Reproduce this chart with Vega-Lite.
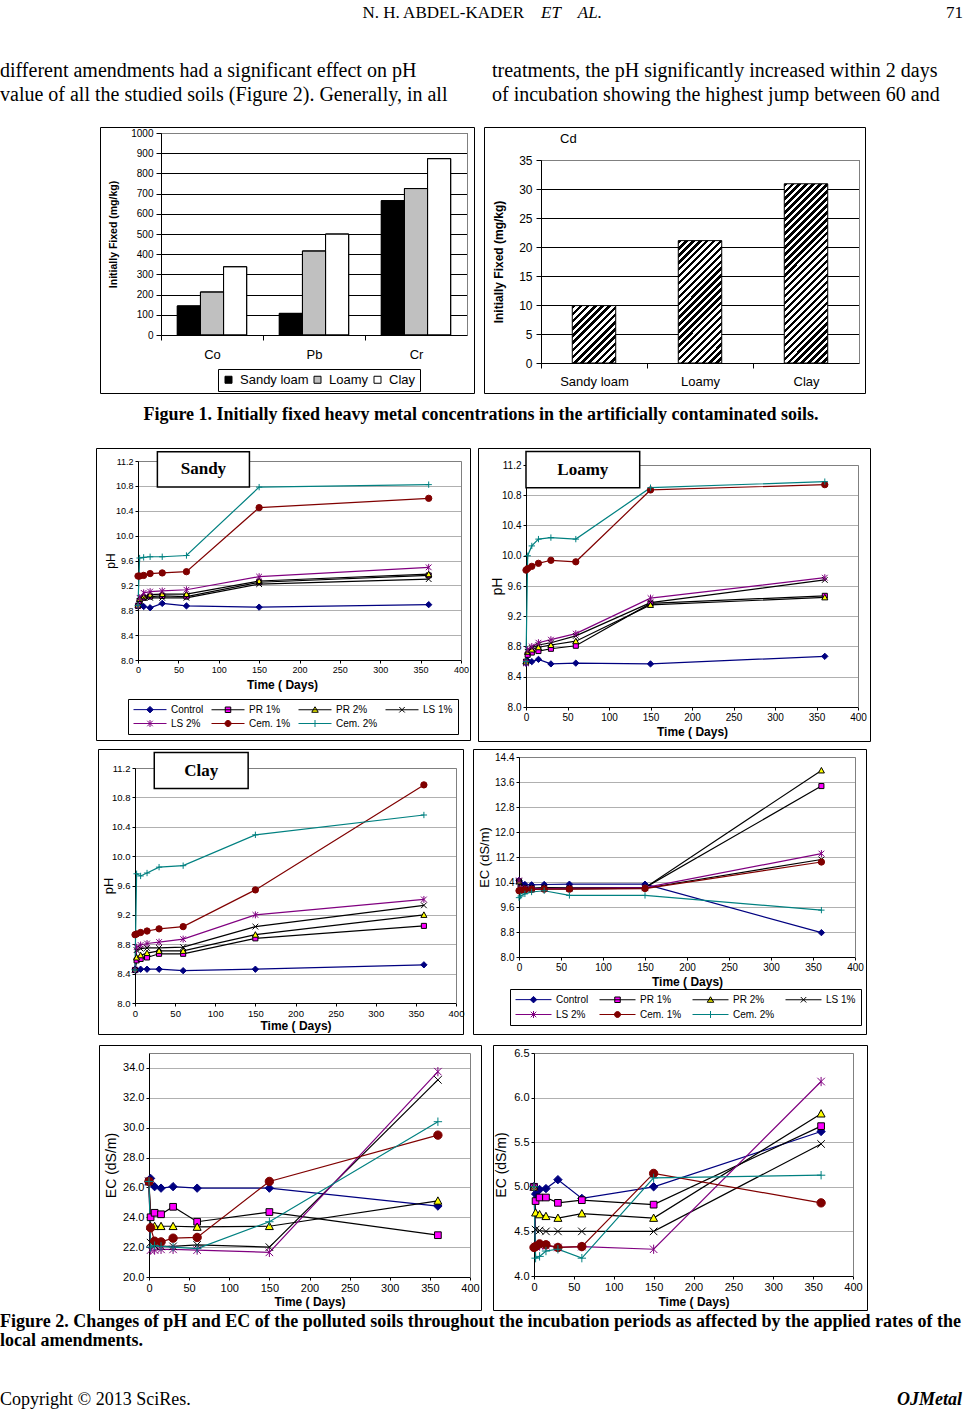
{
"$schema": "https://vega.github.io/schema/vega-lite/v6.json",
"background": "white",
"padding": 0,
"spacing": 0,
"resolve": {"scale": {"fill": "independent", "stroke": "independent", "shape": "independent"}, "legend": {"fill": "independent", "stroke": "independent", "shape": "independent"}},
"datasets": {
"fig1": [
{"metal":"Co","soil":"Sandy loam","value":144},{"metal":"Co","soil":"Loamy","value":213},{"metal":"Co","soil":"Clay","value":338},
{"metal":"Pb","soil":"Sandy loam","value":107},{"metal":"Pb","soil":"Loamy","value":416},{"metal":"Pb","soil":"Clay","value":500},
{"metal":"Cr","soil":"Sandy loam","value":665},{"metal":"Cr","soil":"Loamy","value":725},{"metal":"Cr","soil":"Clay","value":873}
],
"cd": [
{"soil":"Sandy loam","value":9.9},{"soil":"Loamy","value":21.1},{"soil":"Clay","value":30.9}
],
"sandy": [
{"day":0,"series":"Control","value":8.87},{"day":2,"series":"Control","value":8.89},{"day":7,"series":"Control","value":8.86},{"day":15,"series":"Control","value":8.84},{"day":30,"series":"Control","value":8.91},{"day":60,"series":"Control","value":8.87},{"day":150,"series":"Control","value":8.85},{"day":360,"series":"Control","value":8.89},
{"day":0,"series":"PR 1%","value":8.87},{"day":2,"series":"PR 1%","value":8.95},{"day":7,"series":"PR 1%","value":9.0},{"day":15,"series":"PR 1%","value":9.02},{"day":30,"series":"PR 1%","value":9.03},{"day":60,"series":"PR 1%","value":9.02},{"day":150,"series":"PR 1%","value":9.25},{"day":360,"series":"PR 1%","value":9.36},
{"day":0,"series":"PR 2%","value":8.88},{"day":2,"series":"PR 2%","value":8.98},{"day":7,"series":"PR 2%","value":9.02},{"day":15,"series":"PR 2%","value":9.05},{"day":30,"series":"PR 2%","value":9.06},{"day":60,"series":"PR 2%","value":9.06},{"day":150,"series":"PR 2%","value":9.27},{"day":360,"series":"PR 2%","value":9.38},
{"day":0,"series":"LS 1%","value":8.87},{"day":2,"series":"LS 1%","value":8.95},{"day":7,"series":"LS 1%","value":9.0},{"day":15,"series":"LS 1%","value":9.0},{"day":30,"series":"LS 1%","value":9.0},{"day":60,"series":"LS 1%","value":9.0},{"day":150,"series":"LS 1%","value":9.22},{"day":360,"series":"LS 1%","value":9.3},
{"day":0,"series":"LS 2%","value":8.87},{"day":2,"series":"LS 2%","value":9.0},{"day":7,"series":"LS 2%","value":9.08},{"day":15,"series":"LS 2%","value":9.1},{"day":30,"series":"LS 2%","value":9.11},{"day":60,"series":"LS 2%","value":9.13},{"day":150,"series":"LS 2%","value":9.34},{"day":360,"series":"LS 2%","value":9.49},
{"day":0,"series":"Cem. 1%","value":9.35},{"day":2,"series":"Cem. 1%","value":9.35},{"day":7,"series":"Cem. 1%","value":9.36},{"day":15,"series":"Cem. 1%","value":9.39},{"day":30,"series":"Cem. 1%","value":9.4},{"day":60,"series":"Cem. 1%","value":9.42},{"day":150,"series":"Cem. 1%","value":10.45},{"day":360,"series":"Cem. 1%","value":10.6},
{"day":0,"series":"Cem. 2%","value":8.88},{"day":2,"series":"Cem. 2%","value":9.64},{"day":7,"series":"Cem. 2%","value":9.65},{"day":15,"series":"Cem. 2%","value":9.66},{"day":30,"series":"Cem. 2%","value":9.66},{"day":60,"series":"Cem. 2%","value":9.68},{"day":150,"series":"Cem. 2%","value":10.78},{"day":360,"series":"Cem. 2%","value":10.82}
],
"loamy": [
{"day":0,"series":"Control","value":8.58},{"day":2,"series":"Control","value":8.61},{"day":7,"series":"Control","value":8.6},{"day":15,"series":"Control","value":8.63},{"day":30,"series":"Control","value":8.57},{"day":60,"series":"Control","value":8.58},{"day":150,"series":"Control","value":8.57},{"day":360,"series":"Control","value":8.67},
{"day":0,"series":"PR 1%","value":8.6},{"day":2,"series":"PR 1%","value":8.69},{"day":7,"series":"PR 1%","value":8.72},{"day":15,"series":"PR 1%","value":8.74},{"day":30,"series":"PR 1%","value":8.77},{"day":60,"series":"PR 1%","value":8.81},{"day":150,"series":"PR 1%","value":9.37},{"day":360,"series":"PR 1%","value":9.47},
{"day":0,"series":"PR 2%","value":8.6},{"day":2,"series":"PR 2%","value":8.73},{"day":7,"series":"PR 2%","value":8.76},{"day":15,"series":"PR 2%","value":8.79},{"day":30,"series":"PR 2%","value":8.82},{"day":60,"series":"PR 2%","value":8.87},{"day":150,"series":"PR 2%","value":9.35},{"day":360,"series":"PR 2%","value":9.45},
{"day":0,"series":"LS 1%","value":8.58},{"day":2,"series":"LS 1%","value":8.73},{"day":7,"series":"LS 1%","value":8.78},{"day":15,"series":"LS 1%","value":8.82},{"day":30,"series":"LS 1%","value":8.85},{"day":60,"series":"LS 1%","value":8.94},{"day":150,"series":"LS 1%","value":9.38},{"day":360,"series":"LS 1%","value":9.68},
{"day":0,"series":"LS 2%","value":8.58},{"day":2,"series":"LS 2%","value":8.76},{"day":7,"series":"LS 2%","value":8.8},{"day":15,"series":"LS 2%","value":8.85},{"day":30,"series":"LS 2%","value":8.89},{"day":60,"series":"LS 2%","value":8.97},{"day":150,"series":"LS 2%","value":9.44},{"day":360,"series":"LS 2%","value":9.71},
{"day":0,"series":"Cem. 1%","value":9.81},{"day":2,"series":"Cem. 1%","value":9.83},{"day":7,"series":"Cem. 1%","value":9.86},{"day":15,"series":"Cem. 1%","value":9.9},{"day":30,"series":"Cem. 1%","value":9.94},{"day":60,"series":"Cem. 1%","value":9.92},{"day":150,"series":"Cem. 1%","value":10.87},{"day":360,"series":"Cem. 1%","value":10.94},
{"day":0,"series":"Cem. 2%","value":8.6},{"day":2,"series":"Cem. 2%","value":10.0},{"day":7,"series":"Cem. 2%","value":10.13},{"day":15,"series":"Cem. 2%","value":10.22},{"day":30,"series":"Cem. 2%","value":10.24},{"day":60,"series":"Cem. 2%","value":10.22},{"day":150,"series":"Cem. 2%","value":10.9},{"day":360,"series":"Cem. 2%","value":10.98}
],
"clay": [
{"day":0,"series":"Control","value":8.46},{"day":2,"series":"Control","value":8.45},{"day":7,"series":"Control","value":8.46},{"day":15,"series":"Control","value":8.46},{"day":30,"series":"Control","value":8.46},{"day":60,"series":"Control","value":8.44},{"day":150,"series":"Control","value":8.46},{"day":360,"series":"Control","value":8.52},
{"day":0,"series":"PR 1%","value":8.45},{"day":2,"series":"PR 1%","value":8.58},{"day":7,"series":"PR 1%","value":8.6},{"day":15,"series":"PR 1%","value":8.62},{"day":30,"series":"PR 1%","value":8.67},{"day":60,"series":"PR 1%","value":8.67},{"day":150,"series":"PR 1%","value":8.88},{"day":360,"series":"PR 1%","value":9.05},
{"day":0,"series":"PR 2%","value":8.45},{"day":2,"series":"PR 2%","value":8.62},{"day":7,"series":"PR 2%","value":8.65},{"day":15,"series":"PR 2%","value":8.68},{"day":30,"series":"PR 2%","value":8.71},{"day":60,"series":"PR 2%","value":8.71},{"day":150,"series":"PR 2%","value":8.93},{"day":360,"series":"PR 2%","value":9.2},
{"day":0,"series":"LS 1%","value":8.45},{"day":2,"series":"LS 1%","value":8.72},{"day":7,"series":"LS 1%","value":8.74},{"day":15,"series":"LS 1%","value":8.75},{"day":30,"series":"LS 1%","value":8.75},{"day":60,"series":"LS 1%","value":8.76},{"day":150,"series":"LS 1%","value":9.04},{"day":360,"series":"LS 1%","value":9.33},
{"day":0,"series":"LS 2%","value":8.45},{"day":2,"series":"LS 2%","value":8.76},{"day":7,"series":"LS 2%","value":8.79},{"day":15,"series":"LS 2%","value":8.81},{"day":30,"series":"LS 2%","value":8.83},{"day":60,"series":"LS 2%","value":8.87},{"day":150,"series":"LS 2%","value":9.2},{"day":360,"series":"LS 2%","value":9.41},
{"day":0,"series":"Cem. 1%","value":8.93},{"day":2,"series":"Cem. 1%","value":8.94},{"day":7,"series":"Cem. 1%","value":8.96},{"day":15,"series":"Cem. 1%","value":8.98},{"day":30,"series":"Cem. 1%","value":9.01},{"day":60,"series":"Cem. 1%","value":9.04},{"day":150,"series":"Cem. 1%","value":9.54},{"day":360,"series":"Cem. 1%","value":10.97},
{"day":0,"series":"Cem. 2%","value":8.45},{"day":2,"series":"Cem. 2%","value":9.76},{"day":7,"series":"Cem. 2%","value":9.73},{"day":15,"series":"Cem. 2%","value":9.77},{"day":30,"series":"Cem. 2%","value":9.85},{"day":60,"series":"Cem. 2%","value":9.87},{"day":150,"series":"Cem. 2%","value":10.29},{"day":360,"series":"Cem. 2%","value":10.56}
],
"ecmid": [
{"day":0,"series":"Control","value":10.45},{"day":2,"series":"Control","value":10.36},{"day":7,"series":"Control","value":10.32},{"day":15,"series":"Control","value":10.31},{"day":30,"series":"Control","value":10.32},{"day":60,"series":"Control","value":10.33},{"day":150,"series":"Control","value":10.33},{"day":360,"series":"Control","value":8.78},
{"day":0,"series":"PR 1%","value":10.42},{"day":2,"series":"PR 1%","value":10.22},{"day":7,"series":"PR 1%","value":10.2},{"day":15,"series":"PR 1%","value":10.2},{"day":30,"series":"PR 1%","value":10.21},{"day":60,"series":"PR 1%","value":10.2},{"day":150,"series":"PR 1%","value":10.22},{"day":360,"series":"PR 1%","value":13.47},
{"day":0,"series":"PR 2%","value":10.42},{"day":2,"series":"PR 2%","value":10.24},{"day":7,"series":"PR 2%","value":10.21},{"day":15,"series":"PR 2%","value":10.2},{"day":30,"series":"PR 2%","value":10.22},{"day":60,"series":"PR 2%","value":10.21},{"day":150,"series":"PR 2%","value":10.22},{"day":360,"series":"PR 2%","value":13.97},
{"day":0,"series":"LS 1%","value":10.42},{"day":2,"series":"LS 1%","value":10.18},{"day":7,"series":"LS 1%","value":10.16},{"day":15,"series":"LS 1%","value":10.17},{"day":30,"series":"LS 1%","value":10.18},{"day":60,"series":"LS 1%","value":10.18},{"day":150,"series":"LS 1%","value":10.2},{"day":360,"series":"LS 1%","value":11.12},
{"day":0,"series":"LS 2%","value":10.45},{"day":2,"series":"LS 2%","value":10.2},{"day":7,"series":"LS 2%","value":10.18},{"day":15,"series":"LS 2%","value":10.18},{"day":30,"series":"LS 2%","value":10.19},{"day":60,"series":"LS 2%","value":10.2},{"day":150,"series":"LS 2%","value":10.22},{"day":360,"series":"LS 2%","value":11.31},
{"day":0,"series":"Cem. 1%","value":10.12},{"day":2,"series":"Cem. 1%","value":10.13},{"day":7,"series":"Cem. 1%","value":10.15},{"day":15,"series":"Cem. 1%","value":10.16},{"day":30,"series":"Cem. 1%","value":10.17},{"day":60,"series":"Cem. 1%","value":10.17},{"day":150,"series":"Cem. 1%","value":10.19},{"day":360,"series":"Cem. 1%","value":11.04},
{"day":0,"series":"Cem. 2%","value":9.9},{"day":2,"series":"Cem. 2%","value":9.95},{"day":7,"series":"Cem. 2%","value":10.02},{"day":15,"series":"Cem. 2%","value":10.08},{"day":30,"series":"Cem. 2%","value":10.12},{"day":60,"series":"Cem. 2%","value":9.97},{"day":150,"series":"Cem. 2%","value":9.97},{"day":360,"series":"Cem. 2%","value":9.5}
],
"ecbl": [
{"day":0,"series":"Control","value":26.4},{"day":2,"series":"Control","value":26.6},{"day":7,"series":"Control","value":26.05},{"day":15,"series":"Control","value":25.95},{"day":30,"series":"Control","value":26.05},{"day":60,"series":"Control","value":25.95},{"day":150,"series":"Control","value":25.95},{"day":360,"series":"Control","value":24.75},
{"day":0,"series":"PR 1%","value":26.4},{"day":2,"series":"PR 1%","value":24.0},{"day":7,"series":"PR 1%","value":24.3},{"day":15,"series":"PR 1%","value":24.2},{"day":30,"series":"PR 1%","value":24.7},{"day":60,"series":"PR 1%","value":23.7},{"day":150,"series":"PR 1%","value":24.35},{"day":360,"series":"PR 1%","value":22.8},
{"day":0,"series":"PR 2%","value":26.4},{"day":2,"series":"PR 2%","value":23.4},{"day":7,"series":"PR 2%","value":23.4},{"day":15,"series":"PR 2%","value":23.4},{"day":30,"series":"PR 2%","value":23.4},{"day":60,"series":"PR 2%","value":23.35},{"day":150,"series":"PR 2%","value":23.4},{"day":360,"series":"PR 2%","value":25.1},
{"day":0,"series":"LS 1%","value":26.4},{"day":2,"series":"LS 1%","value":22.3},{"day":7,"series":"LS 1%","value":22.1},{"day":15,"series":"LS 1%","value":22.05},{"day":30,"series":"LS 1%","value":22.05},{"day":60,"series":"LS 1%","value":22.15},{"day":150,"series":"LS 1%","value":22.0},{"day":360,"series":"LS 1%","value":33.2},
{"day":0,"series":"LS 2%","value":26.4},{"day":2,"series":"LS 2%","value":21.8},{"day":7,"series":"LS 2%","value":21.8},{"day":15,"series":"LS 2%","value":21.85},{"day":30,"series":"LS 2%","value":21.85},{"day":60,"series":"LS 2%","value":21.8},{"day":150,"series":"LS 2%","value":21.65},{"day":360,"series":"LS 2%","value":33.75},
{"day":0,"series":"Cem. 1%","value":26.4},{"day":2,"series":"Cem. 1%","value":23.3},{"day":7,"series":"Cem. 1%","value":22.4},{"day":15,"series":"Cem. 1%","value":22.35},{"day":30,"series":"Cem. 1%","value":22.6},{"day":60,"series":"Cem. 1%","value":22.65},{"day":150,"series":"Cem. 1%","value":26.4},{"day":360,"series":"Cem. 1%","value":29.5},
{"day":0,"series":"Cem. 2%","value":26.4},{"day":2,"series":"Cem. 2%","value":22.0},{"day":7,"series":"Cem. 2%","value":22.1},{"day":15,"series":"Cem. 2%","value":22.05},{"day":30,"series":"Cem. 2%","value":22.0},{"day":60,"series":"Cem. 2%","value":21.9},{"day":150,"series":"Cem. 2%","value":23.7},{"day":360,"series":"Cem. 2%","value":30.4}
],
"ecbr": [
{"day":0,"series":"Control","value":5.0},{"day":2,"series":"Control","value":4.92},{"day":7,"series":"Control","value":4.97},{"day":15,"series":"Control","value":4.98},{"day":30,"series":"Control","value":5.08},{"day":60,"series":"Control","value":4.87},{"day":150,"series":"Control","value":5.0},{"day":360,"series":"Control","value":5.62},
{"day":0,"series":"PR 1%","value":5.0},{"day":2,"series":"PR 1%","value":4.84},{"day":7,"series":"PR 1%","value":4.88},{"day":15,"series":"PR 1%","value":4.88},{"day":30,"series":"PR 1%","value":4.82},{"day":60,"series":"PR 1%","value":4.85},{"day":150,"series":"PR 1%","value":4.8},{"day":360,"series":"PR 1%","value":5.68},
{"day":0,"series":"PR 2%","value":5.0},{"day":2,"series":"PR 2%","value":4.71},{"day":7,"series":"PR 2%","value":4.69},{"day":15,"series":"PR 2%","value":4.67},{"day":30,"series":"PR 2%","value":4.65},{"day":60,"series":"PR 2%","value":4.7},{"day":150,"series":"PR 2%","value":4.65},{"day":360,"series":"PR 2%","value":5.82},
{"day":0,"series":"LS 1%","value":5.0},{"day":2,"series":"LS 1%","value":4.52},{"day":7,"series":"LS 1%","value":4.51},{"day":15,"series":"LS 1%","value":4.5},{"day":30,"series":"LS 1%","value":4.5},{"day":60,"series":"LS 1%","value":4.5},{"day":150,"series":"LS 1%","value":4.5},{"day":360,"series":"LS 1%","value":5.48},
{"day":0,"series":"LS 2%","value":5.0},{"day":2,"series":"LS 2%","value":4.33},{"day":7,"series":"LS 2%","value":4.34},{"day":15,"series":"LS 2%","value":4.34},{"day":30,"series":"LS 2%","value":4.32},{"day":60,"series":"LS 2%","value":4.33},{"day":150,"series":"LS 2%","value":4.3},{"day":360,"series":"LS 2%","value":6.18},
{"day":0,"series":"Cem. 1%","value":4.32},{"day":2,"series":"Cem. 1%","value":4.33},{"day":7,"series":"Cem. 1%","value":4.36},{"day":15,"series":"Cem. 1%","value":4.35},{"day":30,"series":"Cem. 1%","value":4.32},{"day":60,"series":"Cem. 1%","value":4.33},{"day":150,"series":"Cem. 1%","value":5.15},{"day":360,"series":"Cem. 1%","value":4.82},
{"day":0,"series":"Cem. 2%","value":5.0},{"day":2,"series":"Cem. 2%","value":4.2},{"day":7,"series":"Cem. 2%","value":4.22},{"day":15,"series":"Cem. 2%","value":4.28},{"day":30,"series":"Cem. 2%","value":4.3},{"day":60,"series":"Cem. 2%","value":4.2},{"day":150,"series":"Cem. 2%","value":5.1},{"day":360,"series":"Cem. 2%","value":5.13}
]
},
"vconcat": [
{"spacing": 0, "bounds": "flush", "hconcat": [
{"width": 524, "height": 40, "data": {"values": []}, "mark": "point", "encoding": {}, "title": {"text": "N. H. ABDEL-KADER", "orient": "bottom", "anchor": "end", "offset": -35, "font": "Liberation Serif", "fontSize": 17, "fontWeight": "normal", "baseline": "top"}},
{"width": 17, "height": 40, "data": {"values": []}, "mark": "point", "encoding": {}},
{"width": 385, "height": 40, "data": {"values": []}, "mark": "point", "encoding": {}, "title": {"text": "ET\u00a0\u00a0\u00a0\u00a0AL.", "orient": "bottom", "anchor": "start", "offset": -35, "font": "Liberation Serif", "fontSize": 17, "fontStyle": "italic", "fontWeight": "normal", "baseline": "top"}},
{"width": 37, "height": 40, "data": {"values": []}, "mark": "point", "encoding": {}, "title": {"text": "71", "orient": "bottom", "anchor": "end", "offset": -35, "font": "Liberation Serif", "fontSize": 17, "fontWeight": "normal", "baseline": "top"}}
]},
{"spacing": 0, "bounds": "flush", "hconcat": [
{"width": 492, "height": 86, "data": {"values": []}, "mark": "point", "encoding": {}, "title": {"text": ["different amendments had a significant effect on pH", "value of all the studied soils (Figure 2). Generally, in all"], "orient": "bottom", "anchor": "start", "offset": -65, "font": "Liberation Serif", "fontSize": 20, "lineHeight": 24, "fontWeight": "normal", "baseline": "top"}},
{"width": 471, "height": 86, "data": {"values": []}, "mark": "point", "encoding": {}, "title": {"text": ["treatments, the pH significantly increased within 2 days", "of incubation showing the highest jump between 60 and"], "orient": "bottom", "anchor": "start", "offset": -65, "font": "Liberation Serif", "fontSize": 20, "lineHeight": 24, "fontWeight": "normal", "baseline": "top"}}
]},
{"spacing": 0, "bounds": "flush", "resolve": {"scale": {"fill": "independent", "stroke": "independent", "shape": "independent"}, "legend": {"fill": "independent", "stroke": "independent", "shape": "independent"}}, "hconcat": [
{"width": 100, "height": 266, "data": {"values": []}, "mark": "point", "encoding": {}},
{
 "width": 374, "height": 266, "view": {"stroke": "#000"},
 "data": {"name": "fig1"},
 "layer": [
  {"mark": {"type": "bar", "stroke": "#000", "strokeWidth": 1},
   "encoding": {
    "x": {"field": "metal", "type": "nominal", "scale": {"domain": ["Co","Pb","Cr"], "range": [61, 367], "paddingInner": 0.32, "paddingOuter": 0.16},
      "axis": {"orient": "bottom", "offset": -58, "title": null, "labelAngle": 0, "labelFontSize": 13, "labelPadding": 8, "tickSize": 5, "tickOffset": -51, "labelOffset": 51, "grid": false}},
    "xOffset": {"field": "soil", "type": "nominal", "scale": {"domain": ["Sandy loam","Loamy","Clay"], "paddingInner": 0, "paddingOuter": 0}},
    "y": {"field": "value", "type": "quantitative", "scale": {"domain": [0, 1000], "range": [208, 6], "nice": false, "zero": false},
      "axis": {"orient": "left", "offset": -61, "values": [0,100,200,300,400,500,600,700,800,900,1000], "format": "d", "grid": true, "gridColor": "#000", "title": "Initially Fixed (mg/kg)", "titleFontSize": 10.5, "titleFontWeight": "bold", "titlePadding": 12, "labelFontSize": 10, "tickSize": 5, "labelPadding": 3}},
    "fill": {"field": "soil", "type": "nominal", "scale": {"domain": ["Sandy loam","Loamy","Clay"], "range": ["#000000","#C0C0C0","#FFFFFF"]},
      "legend": {"orient": "none", "legendX": 118, "legendY": 242, "direction": "horizontal", "columns": 3, "title": null, "strokeColor": "#000", "padding": 4, "symbolType": "square", "symbolSize": 49, "symbolStrokeColor": "#000", "symbolStrokeWidth": 1, "labelFontSize": 13, "labelOffset": 5, "columnPadding": 2}}
   }},
  {"mark": {"type": "bar", "fillOpacity": 0, "stroke": "#000", "strokeWidth": 1},
   "encoding": {
    "x": {"field": "metal", "type": "nominal", "scale": {"domain": ["Co","Pb","Cr"], "range": [61, 367], "paddingInner": 0.32, "paddingOuter": 0.16},
      "axis": {"orient": "top", "offset": -6, "labels": false, "ticks": false, "grid": false, "title": null, "domainColor": "#808080"}},
    "xOffset": {"field": "soil", "type": "nominal", "scale": {"domain": ["Sandy loam","Loamy","Clay"], "paddingInner": 0, "paddingOuter": 0}},
    "y": {"field": "value", "type": "quantitative", "scale": {"domain": [0, 1000], "range": [208, 6], "nice": false, "zero": false},
      "axis": {"orient": "right", "offset": -7, "labels": false, "ticks": false, "grid": false, "title": null, "domainColor": "#808080"}}
   }}
 ],
 "resolve": {"axis": {"x": "independent", "y": "independent"}}
},
{"width": 10, "height": 266, "data": {"values": []}, "mark": "point", "encoding": {}},
{
 "width": 381, "height": 266, "view": {"stroke": "#000"},
 "data": {"name": "cd"},
 "title": {"text": "Cd", "orient": "bottom", "anchor": "start", "frame": "group", "offset": -260, "dx": 76, "font": "Liberation Sans", "fontSize": 13, "fontWeight": "normal", "baseline": "top"},
 "layer": [
  {"mark": {"type": "bar"},
   "encoding": {
    "x": {"field": "soil", "type": "nominal", "scale": {"domain": ["Sandy loam","Loamy","Clay"], "range": [57, 375], "paddingInner": 0.59, "paddingOuter": 0.295},
      "axis": {"orient": "bottom", "offset": -30, "title": null, "labelAngle": 0, "labelFontSize": 13, "labelPadding": 7, "tickSize": 5, "tickOffset": -53, "labelOffset": 53, "grid": false}},
    "y": {"field": "value", "type": "quantitative", "scale": {"domain": [0, 35], "range": [236, 33], "nice": false, "zero": false},
      "axis": {"orient": "left", "offset": -57, "values": [0,5,10,15,20,25,30,35], "grid": true, "gridColor": "#000", "title": "Initially Fixed (mg/kg)", "titleFontSize": 12, "titleFontWeight": "bold", "titlePadding": 13, "labelFontSize": 12, "tickSize": 5, "labelPadding": 4}},
    "fill": {"condition": [
      {"test": "datum.soil === 'Sandy loam'", "value": {"gradient": "linear", "x1": 0, "y1": 0, "x2": 0.8463, "y2": 1.1165, "stops": [
{"offset":0,"color":"#000"},{"offset":0.0357,"color":"#000"},{"offset":0.0357,"color":"#fff"},{"offset":0.0714,"color":"#fff"},
{"offset":0.0714,"color":"#000"},{"offset":0.1071,"color":"#000"},{"offset":0.1071,"color":"#fff"},{"offset":0.1429,"color":"#fff"},
{"offset":0.1429,"color":"#000"},{"offset":0.1786,"color":"#000"},{"offset":0.1786,"color":"#fff"},{"offset":0.2143,"color":"#fff"},
{"offset":0.2143,"color":"#000"},{"offset":0.25,"color":"#000"},{"offset":0.25,"color":"#fff"},{"offset":0.2857,"color":"#fff"},
{"offset":0.2857,"color":"#000"},{"offset":0.3214,"color":"#000"},{"offset":0.3214,"color":"#fff"},{"offset":0.3571,"color":"#fff"},
{"offset":0.3571,"color":"#000"},{"offset":0.3929,"color":"#000"},{"offset":0.3929,"color":"#fff"},{"offset":0.4286,"color":"#fff"},
{"offset":0.4286,"color":"#000"},{"offset":0.4643,"color":"#000"},{"offset":0.4643,"color":"#fff"},{"offset":0.5,"color":"#fff"},
{"offset":0.5,"color":"#000"},{"offset":0.5357,"color":"#000"},{"offset":0.5357,"color":"#fff"},{"offset":0.5714,"color":"#fff"},
{"offset":0.5714,"color":"#000"},{"offset":0.6071,"color":"#000"},{"offset":0.6071,"color":"#fff"},{"offset":0.6429,"color":"#fff"},
{"offset":0.6429,"color":"#000"},{"offset":0.6786,"color":"#000"},{"offset":0.6786,"color":"#fff"},{"offset":0.7143,"color":"#fff"},
{"offset":0.7143,"color":"#000"},{"offset":0.75,"color":"#000"},{"offset":0.75,"color":"#fff"},{"offset":0.7857,"color":"#fff"},
{"offset":0.7857,"color":"#000"},{"offset":0.8214,"color":"#000"},{"offset":0.8214,"color":"#fff"},{"offset":0.8571,"color":"#fff"},
{"offset":0.8571,"color":"#000"},{"offset":0.8929,"color":"#000"},{"offset":0.8929,"color":"#fff"},{"offset":0.9286,"color":"#fff"},
{"offset":0.9286,"color":"#000"},{"offset":0.9643,"color":"#000"},{"offset":0.9643,"color":"#fff"},{"offset":1,"color":"#fff"}
      ]}},
      {"test": "datum.soil === 'Loamy'", "value": {"gradient": "linear", "x1": 0, "y1": 0, "x2": 0.4277, "y2": 1.2034, "stops": [
{"offset":0,"color":"#000"},{"offset":0.0208,"color":"#000"},{"offset":0.0208,"color":"#fff"},{"offset":0.0417,"color":"#fff"},
{"offset":0.0417,"color":"#000"},{"offset":0.0625,"color":"#000"},{"offset":0.0625,"color":"#fff"},{"offset":0.0833,"color":"#fff"},
{"offset":0.0833,"color":"#000"},{"offset":0.1042,"color":"#000"},{"offset":0.1042,"color":"#fff"},{"offset":0.125,"color":"#fff"},
{"offset":0.125,"color":"#000"},{"offset":0.1458,"color":"#000"},{"offset":0.1458,"color":"#fff"},{"offset":0.1667,"color":"#fff"},
{"offset":0.1667,"color":"#000"},{"offset":0.1875,"color":"#000"},{"offset":0.1875,"color":"#fff"},{"offset":0.2083,"color":"#fff"},
{"offset":0.2083,"color":"#000"},{"offset":0.2292,"color":"#000"},{"offset":0.2292,"color":"#fff"},{"offset":0.25,"color":"#fff"},
{"offset":0.25,"color":"#000"},{"offset":0.2708,"color":"#000"},{"offset":0.2708,"color":"#fff"},{"offset":0.2917,"color":"#fff"},
{"offset":0.2917,"color":"#000"},{"offset":0.3125,"color":"#000"},{"offset":0.3125,"color":"#fff"},{"offset":0.3333,"color":"#fff"},
{"offset":0.3333,"color":"#000"},{"offset":0.3542,"color":"#000"},{"offset":0.3542,"color":"#fff"},{"offset":0.375,"color":"#fff"},
{"offset":0.375,"color":"#000"},{"offset":0.3958,"color":"#000"},{"offset":0.3958,"color":"#fff"},{"offset":0.4167,"color":"#fff"},
{"offset":0.4167,"color":"#000"},{"offset":0.4375,"color":"#000"},{"offset":0.4375,"color":"#fff"},{"offset":0.4583,"color":"#fff"},
{"offset":0.4583,"color":"#000"},{"offset":0.4792,"color":"#000"},{"offset":0.4792,"color":"#fff"},{"offset":0.5,"color":"#fff"},
{"offset":0.5,"color":"#000"},{"offset":0.5208,"color":"#000"},{"offset":0.5208,"color":"#fff"},{"offset":0.5417,"color":"#fff"},
{"offset":0.5417,"color":"#000"},{"offset":0.5625,"color":"#000"},{"offset":0.5625,"color":"#fff"},{"offset":0.5833,"color":"#fff"},
{"offset":0.5833,"color":"#000"},{"offset":0.6042,"color":"#000"},{"offset":0.6042,"color":"#fff"},{"offset":0.625,"color":"#fff"},
{"offset":0.625,"color":"#000"},{"offset":0.6458,"color":"#000"},{"offset":0.6458,"color":"#fff"},{"offset":0.6667,"color":"#fff"},
{"offset":0.6667,"color":"#000"},{"offset":0.6875,"color":"#000"},{"offset":0.6875,"color":"#fff"},{"offset":0.7083,"color":"#fff"},
{"offset":0.7083,"color":"#000"},{"offset":0.7292,"color":"#000"},{"offset":0.7292,"color":"#fff"},{"offset":0.75,"color":"#fff"},
{"offset":0.75,"color":"#000"},{"offset":0.7708,"color":"#000"},{"offset":0.7708,"color":"#fff"},{"offset":0.7917,"color":"#fff"},
{"offset":0.7917,"color":"#000"},{"offset":0.8125,"color":"#000"},{"offset":0.8125,"color":"#fff"},{"offset":0.8333,"color":"#fff"},
{"offset":0.8333,"color":"#000"},{"offset":0.8542,"color":"#000"},{"offset":0.8542,"color":"#fff"},{"offset":0.875,"color":"#fff"},
{"offset":0.875,"color":"#000"},{"offset":0.8958,"color":"#000"},{"offset":0.8958,"color":"#fff"},{"offset":0.9167,"color":"#fff"},
{"offset":0.9167,"color":"#000"},{"offset":0.9375,"color":"#000"},{"offset":0.9375,"color":"#fff"},{"offset":0.9583,"color":"#fff"},
{"offset":0.9583,"color":"#000"},{"offset":0.9792,"color":"#000"},{"offset":0.9792,"color":"#fff"},{"offset":1,"color":"#fff"}
      ]}}
     ],
     "value": {"gradient": "linear", "x1": 0, "y1": 0, "x2": 0.2848, "y2": 1.1736, "stops": [
{"offset":0,"color":"#000"},{"offset":0.015625,"color":"#000"},{"offset":0.015625,"color":"#fff"},{"offset":0.03125,"color":"#fff"},
{"offset":0.03125,"color":"#000"},{"offset":0.046875,"color":"#000"},{"offset":0.046875,"color":"#fff"},{"offset":0.0625,"color":"#fff"},
{"offset":0.0625,"color":"#000"},{"offset":0.078125,"color":"#000"},{"offset":0.078125,"color":"#fff"},{"offset":0.09375,"color":"#fff"},
{"offset":0.09375,"color":"#000"},{"offset":0.109375,"color":"#000"},{"offset":0.109375,"color":"#fff"},{"offset":0.125,"color":"#fff"},
{"offset":0.125,"color":"#000"},{"offset":0.140625,"color":"#000"},{"offset":0.140625,"color":"#fff"},{"offset":0.15625,"color":"#fff"},
{"offset":0.15625,"color":"#000"},{"offset":0.171875,"color":"#000"},{"offset":0.171875,"color":"#fff"},{"offset":0.1875,"color":"#fff"},
{"offset":0.1875,"color":"#000"},{"offset":0.203125,"color":"#000"},{"offset":0.203125,"color":"#fff"},{"offset":0.21875,"color":"#fff"},
{"offset":0.21875,"color":"#000"},{"offset":0.234375,"color":"#000"},{"offset":0.234375,"color":"#fff"},{"offset":0.25,"color":"#fff"},
{"offset":0.25,"color":"#000"},{"offset":0.265625,"color":"#000"},{"offset":0.265625,"color":"#fff"},{"offset":0.28125,"color":"#fff"},
{"offset":0.28125,"color":"#000"},{"offset":0.296875,"color":"#000"},{"offset":0.296875,"color":"#fff"},{"offset":0.3125,"color":"#fff"},
{"offset":0.3125,"color":"#000"},{"offset":0.328125,"color":"#000"},{"offset":0.328125,"color":"#fff"},{"offset":0.34375,"color":"#fff"},
{"offset":0.34375,"color":"#000"},{"offset":0.359375,"color":"#000"},{"offset":0.359375,"color":"#fff"},{"offset":0.375,"color":"#fff"},
{"offset":0.375,"color":"#000"},{"offset":0.390625,"color":"#000"},{"offset":0.390625,"color":"#fff"},{"offset":0.40625,"color":"#fff"},
{"offset":0.40625,"color":"#000"},{"offset":0.421875,"color":"#000"},{"offset":0.421875,"color":"#fff"},{"offset":0.4375,"color":"#fff"},
{"offset":0.4375,"color":"#000"},{"offset":0.453125,"color":"#000"},{"offset":0.453125,"color":"#fff"},{"offset":0.46875,"color":"#fff"},
{"offset":0.46875,"color":"#000"},{"offset":0.484375,"color":"#000"},{"offset":0.484375,"color":"#fff"},{"offset":0.5,"color":"#fff"},
{"offset":0.5,"color":"#000"},{"offset":0.515625,"color":"#000"},{"offset":0.515625,"color":"#fff"},{"offset":0.53125,"color":"#fff"},
{"offset":0.53125,"color":"#000"},{"offset":0.546875,"color":"#000"},{"offset":0.546875,"color":"#fff"},{"offset":0.5625,"color":"#fff"},
{"offset":0.5625,"color":"#000"},{"offset":0.578125,"color":"#000"},{"offset":0.578125,"color":"#fff"},{"offset":0.59375,"color":"#fff"},
{"offset":0.59375,"color":"#000"},{"offset":0.609375,"color":"#000"},{"offset":0.609375,"color":"#fff"},{"offset":0.625,"color":"#fff"},
{"offset":0.625,"color":"#000"},{"offset":0.640625,"color":"#000"},{"offset":0.640625,"color":"#fff"},{"offset":0.65625,"color":"#fff"},
{"offset":0.65625,"color":"#000"},{"offset":0.671875,"color":"#000"},{"offset":0.671875,"color":"#fff"},{"offset":0.6875,"color":"#fff"},
{"offset":0.6875,"color":"#000"},{"offset":0.703125,"color":"#000"},{"offset":0.703125,"color":"#fff"},{"offset":0.71875,"color":"#fff"},
{"offset":0.71875,"color":"#000"},{"offset":0.734375,"color":"#000"},{"offset":0.734375,"color":"#fff"},{"offset":0.75,"color":"#fff"},
{"offset":0.75,"color":"#000"},{"offset":0.765625,"color":"#000"},{"offset":0.765625,"color":"#fff"},{"offset":0.78125,"color":"#fff"},
{"offset":0.78125,"color":"#000"},{"offset":0.796875,"color":"#000"},{"offset":0.796875,"color":"#fff"},{"offset":0.8125,"color":"#fff"},
{"offset":0.8125,"color":"#000"},{"offset":0.828125,"color":"#000"},{"offset":0.828125,"color":"#fff"},{"offset":0.84375,"color":"#fff"},
{"offset":0.84375,"color":"#000"},{"offset":0.859375,"color":"#000"},{"offset":0.859375,"color":"#fff"},{"offset":0.875,"color":"#fff"},
{"offset":0.875,"color":"#000"},{"offset":0.890625,"color":"#000"},{"offset":0.890625,"color":"#fff"},{"offset":0.90625,"color":"#fff"},
{"offset":0.90625,"color":"#000"},{"offset":0.921875,"color":"#000"},{"offset":0.921875,"color":"#fff"},{"offset":0.9375,"color":"#fff"},
{"offset":0.9375,"color":"#000"},{"offset":0.953125,"color":"#000"},{"offset":0.953125,"color":"#fff"},{"offset":0.96875,"color":"#fff"},
{"offset":0.96875,"color":"#000"},{"offset":0.984375,"color":"#000"},{"offset":0.984375,"color":"#fff"},{"offset":1,"color":"#fff"}
     ]}}
   }},
  {"mark": {"type": "bar", "fillOpacity": 0, "stroke": "#000", "strokeWidth": 1},
   "encoding": {
    "x": {"field": "soil", "type": "nominal", "scale": {"domain": ["Sandy loam","Loamy","Clay"], "range": [57, 375], "paddingInner": 0.59, "paddingOuter": 0.295},
      "axis": {"orient": "top", "offset": -33, "labels": false, "ticks": false, "grid": false, "title": null, "domainColor": "#808080"}},
    "y": {"field": "value", "type": "quantitative", "scale": {"domain": [0, 35], "range": [236, 33], "nice": false, "zero": false},
      "axis": {"orient": "right", "offset": -6, "labels": false, "ticks": false, "grid": false, "title": null, "domainColor": "#808080"}}
   }}
 ],
 "resolve": {"axis": {"x": "independent", "y": "independent"}}
}
]},
{"spacing": 0, "bounds": "flush", "hconcat": [
{"width": 962, "height": 53, "data": {"values": []}, "mark": "point", "encoding": {}, "title": {"text": "Figure 1. Initially fixed heavy metal concentrations in the artificially contaminated soils.", "orient": "bottom", "anchor": "middle", "offset": -41, "font": "Liberation Serif", "fontSize": 18, "fontWeight": "bold", "baseline": "top"}}
]},
{"spacing": 0, "bounds": "flush", "resolve": {"scale": {"fill": "independent", "stroke": "independent", "shape": "independent"}, "legend": {"fill": "independent", "stroke": "independent", "shape": "independent"}}, "hconcat": [
{"width": 96, "height": 300, "data": {"values": []}, "mark": "point", "encoding": {}},
{
 "width": 374, "height": 292, "view": {"stroke": "#000"},
 "data": {"name": "sandy"},
 "layer": [
  {"mark": {"type": "line", "strokeWidth": 1.2},
   "encoding": {
    "x": {"field": "day", "type": "quantitative", "scale": {"domain": [0, 400], "range": [42, 365], "nice": false, "zero": false},
      "axis": {"orient": "bottom", "offset": -80, "values": [0,50,100,150,200,250,300,350,400], "format": "d", "grid": false, "tickSize": 3, "labelPadding": 2, "labelFontSize": 9, "title": "Time ( Days)", "titleFontSize": 12, "titleFontWeight": "bold", "titlePadding": 5, "titleX": 186}},
    "y": {"field": "value", "type": "quantitative", "scale": {"domain": [8, 11.2], "range": [212, 13], "nice": false, "zero": false},
      "axis": {"orient": "left", "offset": -42, "values": [8,8.4,8.8,9.2,9.6,10,10.4,10.8,11.2], "format": ".1f", "grid": true, "gridColor": "#B0B0B0", "tickSize": 3, "labelPadding": 2, "labelFontSize": 9, "title": "pH", "titleFontSize": 12, "titleFontWeight": "normal", "titlePadding": -2}},
    "stroke": {"field": "series", "type": "nominal", "scale": {"domain": ["Control","PR 1%","PR 2%","LS 1%","LS 2%","Cem. 1%","Cem. 2%"], "range": ["#000080","#000000","#000000","#000000","#800080","#800000","#008080"]},
      "legend": {"orient": "none", "legendX": 32, "legendY": 251, "direction": "horizontal", "columns": 4, "title": null, "strokeColor": "#000", "padding": 5, "columnPadding": 5, "rowPadding": 3, "symbolSize": 100, "symbolOffset": 11.5, "symbolStrokeWidth": 1, "labelOffset": 15.5, "labelFontSize": 10, "gridAlign": "each",
        "encode": {"symbols": {"update": {
          "shape": {"signal": "datum.value === 'Control' ? 'M-3.3,0H3.3M0,-0.65L0.65,0L0,0.65L-0.65,0Z' : datum.value === 'PR 1%' ? 'M-3.3,0H3.3M-0.55,-0.55H0.55V0.55H-0.55Z' : datum.value === 'PR 2%' ? 'M-3.3,0H3.3M0,-0.6L0.65,0.5H-0.65Z' : datum.value === 'LS 1%' ? 'M-3.3,0H3.3M-0.55,-0.55L0.55,0.55M-0.55,0.55L0.55,-0.55' : datum.value === 'LS 2%' ? 'M-3.3,0H3.3M-0.55,-0.55L0.55,0.55M-0.55,0.55L0.55,-0.55M0,-0.7V0.7' : datum.value === 'Cem. 1%' ? 'M-3.3,0H3.3M0.6,0A0.6,0.6,0,1,1,-0.6,0A0.6,0.6,0,1,1,0.6,0Z' : 'M-3.3,0H3.3M0,-0.7V0.7'"},
          "fill": {"signal": "datum.value === 'Control' ? '#000080' : datum.value === 'PR 1%' ? '#FF00FF' : datum.value === 'PR 2%' ? '#FFFF00' : datum.value === 'Cem. 1%' ? '#800000' : 'transparent'"}
        }}}}}
   }},
  {"mark": {"type": "point", "filled": true, "size": 40, "strokeWidth": 1, "opacity": 1},
   "encoding": {
    "x": {"field": "day", "type": "quantitative", "scale": {"domain": [0, 400], "range": [42, 365], "nice": false, "zero": false},
      "axis": {"orient": "top", "offset": -13, "labels": false, "ticks": false, "grid": false, "title": null, "domainColor": "#808080"}},
    "y": {"field": "value", "type": "quantitative", "scale": {"domain": [8, 11.2], "range": [212, 13], "nice": false, "zero": false},
      "axis": {"orient": "right", "offset": -9, "labels": false, "ticks": false, "grid": false, "title": null, "domainColor": "#808080"}},
    "stroke": {"field": "series", "type": "nominal", "legend": null},
    "fill": {"field": "series", "type": "nominal", "scale": {"domain": ["Cem. 2%","Cem. 1%","LS 2%","LS 1%","PR 2%","PR 1%","Control"], "range": ["#008080","#800000","#000000","#000000","#FFFF00","#FF00FF","#000080"]}, "legend": null},
    "shape": {"field": "series", "type": "nominal", "scale": {"domain": ["Cem. 2%","Cem. 1%","LS 2%","LS 1%","PR 2%","PR 1%","Control"], "range": ["M-1,0H1M0,-1V1","circle","M-0.9,-0.9L0.9,0.9M-0.9,0.9L0.9,-0.9M0,-1.1V1.1","M-0.9,-0.9L0.9,0.9M-0.9,0.9L0.9,-0.9","M0,-0.95L0.95,0.8H-0.95Z","M-0.8,-0.8H0.8V0.8H-0.8Z","M0,-1L1,0L0,1L-1,0Z"]}, "legend": null}
   }},
  {"data": {"values": [{"label": "Sandy"}]},
   "mark": {"type": "rect", "fill": "#fff", "stroke": "#000", "strokeWidth": 1.5},
   "encoding": {
    "x": {"datum": 24, "type": "quantitative", "scale": {"domain": [0, 400], "range": [42, 365], "nice": false, "zero": false}, "axis": null},
    "x2": {"datum": 138},
    "y": {"datum": 11.35, "type": "quantitative", "scale": {"domain": [8, 11.2], "range": [212, 13], "nice": false, "zero": false}, "axis": null},
    "y2": {"datum": 10.78}
   }},
  {"data": {"values": [{"label": "Sandy"}]},
   "mark": {"type": "text", "font": "Liberation Serif", "fontWeight": "bold", "fontSize": 17, "align": "center", "baseline": "middle", "color": "#000"},
   "encoding": {
    "x": {"datum": 81, "type": "quantitative", "scale": {"domain": [0, 400], "range": [42, 365], "nice": false, "zero": false}, "axis": null},
    "y": {"datum": 11.065, "type": "quantitative", "scale": {"domain": [8, 11.2], "range": [212, 13], "nice": false, "zero": false}, "axis": null},
    "text": {"field": "label"}
   }}
 ],
 "resolve": {"axis": {"x": "independent", "y": "independent"}}
},
{"width": 8, "height": 300, "data": {"values": []}, "mark": "point", "encoding": {}},
{
 "width": 392, "height": 293, "view": {"stroke": "#000"},
 "data": {"name": "loamy"},
 "layer": [
  {"mark": {"type": "line", "strokeWidth": 1.2},
   "encoding": {
    "x": {"field": "day", "type": "quantitative", "scale": {"domain": [0, 400], "range": [48, 380], "nice": false, "zero": false},
      "axis": {"orient": "bottom", "offset": -34, "values": [0,50,100,150,200,250,300,350,400], "format": "d", "grid": false, "tickSize": 3, "labelPadding": 2, "labelFontSize": 10, "title": "Time ( Days)", "titleFontSize": 12, "titleFontWeight": "bold", "titlePadding": 4}},
    "y": {"field": "value", "type": "quantitative", "scale": {"domain": [8, 11.2], "range": [259, 17], "nice": false, "zero": false},
      "axis": {"orient": "left", "offset": -48, "values": [8,8.4,8.8,9.2,9.6,10,10.4,10.8,11.2], "format": ".1f", "grid": true, "gridColor": "#B0B0B0", "tickSize": 3, "labelPadding": 2, "labelFontSize": 10, "title": "pH", "titleFontSize": 14, "titleFontWeight": "normal", "titlePadding": -3}},
    "stroke": {"field": "series", "type": "nominal", "scale": {"domain": ["Control","PR 1%","PR 2%","LS 1%","LS 2%","Cem. 1%","Cem. 2%"], "range": ["#000080","#000000","#000000","#000000","#800080","#800000","#008080"]}, "legend": null}
   }},
  {"mark": {"type": "point", "filled": true, "size": 40, "strokeWidth": 1, "opacity": 1},
   "encoding": {
    "x": {"field": "day", "type": "quantitative", "scale": {"domain": [0, 400], "range": [48, 380], "nice": false, "zero": false},
      "axis": {"orient": "top", "offset": -17, "labels": false, "ticks": false, "grid": false, "title": null, "domainColor": "#808080"}},
    "y": {"field": "value", "type": "quantitative", "scale": {"domain": [8, 11.2], "range": [259, 17], "nice": false, "zero": false},
      "axis": {"orient": "right", "offset": -12, "labels": false, "ticks": false, "grid": false, "title": null, "domainColor": "#808080"}},
    "stroke": {"field": "series", "type": "nominal", "legend": null},
    "fill": {"field": "series", "type": "nominal", "scale": {"domain": ["Cem. 2%","Cem. 1%","LS 2%","LS 1%","PR 2%","PR 1%","Control"], "range": ["#008080","#800000","#000000","#000000","#FFFF00","#FF00FF","#000080"]}, "legend": null},
    "shape": {"field": "series", "type": "nominal", "scale": {"domain": ["Cem. 2%","Cem. 1%","LS 2%","LS 1%","PR 2%","PR 1%","Control"], "range": ["M-1,0H1M0,-1V1","circle","M-0.9,-0.9L0.9,0.9M-0.9,0.9L0.9,-0.9M0,-1.1V1.1","M-0.9,-0.9L0.9,0.9M-0.9,0.9L0.9,-0.9","M0,-0.95L0.95,0.8H-0.95Z","M-0.8,-0.8H0.8V0.8H-0.8Z","M0,-1L1,0L0,1L-1,0Z"]}, "legend": null}
   }},
  {"data": {"values": [{"label": "Loamy"}]},
   "mark": {"type": "rect", "fill": "#fff", "stroke": "#000", "strokeWidth": 1.5},
   "encoding": {
    "x": {"datum": 0, "type": "quantitative", "scale": {"domain": [0, 400], "range": [48, 380], "nice": false, "zero": false}, "axis": null},
    "x2": {"datum": 137},
    "y": {"datum": 11.38, "type": "quantitative", "scale": {"domain": [8, 11.2], "range": [259, 17], "nice": false, "zero": false}, "axis": null},
    "y2": {"datum": 10.9}
   }},
  {"data": {"values": [{"label": "Loamy"}]},
   "mark": {"type": "text", "font": "Liberation Serif", "fontWeight": "bold", "fontSize": 17, "align": "center", "baseline": "middle", "color": "#000"},
   "encoding": {
    "x": {"datum": 68.5, "type": "quantitative", "scale": {"domain": [0, 400], "range": [48, 380], "nice": false, "zero": false}, "axis": null},
    "y": {"datum": 11.14, "type": "quantitative", "scale": {"domain": [8, 11.2], "range": [259, 17], "nice": false, "zero": false}, "axis": null},
    "text": {"field": "label"}
   }}
 ],
 "resolve": {"axis": {"x": "independent", "y": "independent"}}
}
]},
{"spacing": 0, "bounds": "flush", "resolve": {"scale": {"fill": "independent", "stroke": "independent", "shape": "independent"}, "legend": {"fill": "independent", "stroke": "independent", "shape": "independent"}}, "hconcat": [
{"width": 98, "height": 295, "data": {"values": []}, "mark": "point", "encoding": {}},
{
 "width": 365, "height": 285, "view": {"stroke": "#000"},
 "data": {"name": "clay"},
 "layer": [
  {"mark": {"type": "line", "strokeWidth": 1.2},
   "encoding": {
    "x": {"field": "day", "type": "quantitative", "scale": {"domain": [0, 400], "range": [37, 358], "nice": false, "zero": false},
      "axis": {"orient": "bottom", "offset": -31, "values": [0,50,100,150,200,250,300,350,400], "format": "d", "grid": false, "tickSize": 3, "labelPadding": 2, "labelFontSize": 9.5, "title": "Time ( Days)", "titleFontSize": 12, "titleFontWeight": "bold", "titlePadding": 3}},
    "y": {"field": "value", "type": "quantitative", "scale": {"domain": [8, 11.2], "range": [254, 19], "nice": false, "zero": false},
      "axis": {"orient": "left", "offset": -37, "values": [8,8.4,8.8,9.2,9.6,10,10.4,10.8,11.2], "format": ".1f", "grid": true, "gridColor": "#B0B0B0", "tickSize": 3, "labelPadding": 2, "labelFontSize": 9.5, "title": "pH", "titleFontSize": 13, "titleFontWeight": "normal", "titlePadding": -4}},
    "stroke": {"field": "series", "type": "nominal", "scale": {"domain": ["Control","PR 1%","PR 2%","LS 1%","LS 2%","Cem. 1%","Cem. 2%"], "range": ["#000080","#000000","#000000","#000000","#800080","#800000","#008080"]}, "legend": null}
   }},
  {"mark": {"type": "point", "filled": true, "size": 40, "strokeWidth": 1, "opacity": 1},
   "encoding": {
    "x": {"field": "day", "type": "quantitative", "scale": {"domain": [0, 400], "range": [37, 358], "nice": false, "zero": false},
      "axis": {"orient": "top", "offset": -19, "labels": false, "ticks": false, "grid": false, "title": null, "domainColor": "#808080"}},
    "y": {"field": "value", "type": "quantitative", "scale": {"domain": [8, 11.2], "range": [254, 19], "nice": false, "zero": false},
      "axis": {"orient": "right", "offset": -7, "labels": false, "ticks": false, "grid": false, "title": null, "domainColor": "#808080"}},
    "stroke": {"field": "series", "type": "nominal", "legend": null},
    "fill": {"field": "series", "type": "nominal", "scale": {"domain": ["Cem. 2%","Cem. 1%","LS 2%","LS 1%","PR 2%","PR 1%","Control"], "range": ["#008080","#800000","#000000","#000000","#FFFF00","#FF00FF","#000080"]}, "legend": null},
    "shape": {"field": "series", "type": "nominal", "scale": {"domain": ["Cem. 2%","Cem. 1%","LS 2%","LS 1%","PR 2%","PR 1%","Control"], "range": ["M-1,0H1M0,-1V1","circle","M-0.9,-0.9L0.9,0.9M-0.9,0.9L0.9,-0.9M0,-1.1V1.1","M-0.9,-0.9L0.9,0.9M-0.9,0.9L0.9,-0.9","M0,-0.95L0.95,0.8H-0.95Z","M-0.8,-0.8H0.8V0.8H-0.8Z","M0,-1L1,0L0,1L-1,0Z"]}, "legend": null}
   }},
  {"data": {"values": [{"label": "Clay"}]},
   "mark": {"type": "rect", "fill": "#fff", "stroke": "#000", "strokeWidth": 1.5},
   "encoding": {
    "x": {"datum": 24, "type": "quantitative", "scale": {"domain": [0, 400], "range": [37, 358], "nice": false, "zero": false}, "axis": null},
    "x2": {"datum": 141},
    "y": {"datum": 11.41, "type": "quantitative", "scale": {"domain": [8, 11.2], "range": [254, 19], "nice": false, "zero": false}, "axis": null},
    "y2": {"datum": 10.92}
   }},
  {"data": {"values": [{"label": "Clay"}]},
   "mark": {"type": "text", "font": "Liberation Serif", "fontWeight": "bold", "fontSize": 17, "align": "center", "baseline": "middle", "color": "#000"},
   "encoding": {
    "x": {"datum": 82.5, "type": "quantitative", "scale": {"domain": [0, 400], "range": [37, 358], "nice": false, "zero": false}, "axis": null},
    "y": {"datum": 11.165, "type": "quantitative", "scale": {"domain": [8, 11.2], "range": [254, 19], "nice": false, "zero": false}, "axis": null},
    "text": {"field": "label"}
   }}
 ],
 "resolve": {"axis": {"x": "independent", "y": "independent"}}
},
{"width": 10, "height": 295, "data": {"values": []}, "mark": "point", "encoding": {}},
{
 "width": 393, "height": 285, "view": {"stroke": "#000"},
 "data": {"name": "ecmid"},
 "layer": [
  {"mark": {"type": "line", "strokeWidth": 1.2},
   "encoding": {
    "x": {"field": "day", "type": "quantitative", "scale": {"domain": [0, 400], "range": [46, 382], "nice": false, "zero": false},
      "axis": {"orient": "bottom", "offset": -77, "values": [0,50,100,150,200,250,300,350,400], "format": "d", "grid": false, "tickSize": 3, "labelPadding": 2, "labelFontSize": 10, "title": "Time ( Days)", "titleFontSize": 12, "titleFontWeight": "bold", "titlePadding": 4}},
    "y": {"field": "value", "type": "quantitative", "scale": {"domain": [8, 14.4], "range": [208, 8], "nice": false, "zero": false},
      "axis": {"orient": "left", "offset": -46, "values": [8,8.8,9.6,10.4,11.2,12,12.8,13.6,14.4], "format": ".1f", "grid": true, "gridColor": "#B0B0B0", "tickSize": 3, "labelPadding": 2, "labelFontSize": 10, "title": "EC (dS/m)", "titleFontSize": 13, "titleFontWeight": "normal", "titlePadding": 3}},
    "stroke": {"field": "series", "type": "nominal", "scale": {"domain": ["Control","PR 1%","PR 2%","LS 1%","LS 2%","Cem. 1%","Cem. 2%"], "range": ["#000080","#000000","#000000","#000000","#800080","#800000","#008080"]},
      "legend": {"orient": "none", "legendX": 37, "legendY": 240, "direction": "horizontal", "columns": 4, "title": null, "strokeColor": "#000", "padding": 5, "columnPadding": 8, "rowPadding": 4, "symbolSize": 100, "symbolOffset": 13, "symbolStrokeWidth": 1, "labelOffset": 17, "labelFontSize": 10, "gridAlign": "each",
        "encode": {"symbols": {"update": {
          "shape": {"signal": "datum.value === 'Control' ? 'M-3.6,0H3.6M0,-0.65L0.65,0L0,0.65L-0.65,0Z' : datum.value === 'PR 1%' ? 'M-3.6,0H3.6M-0.55,-0.55H0.55V0.55H-0.55Z' : datum.value === 'PR 2%' ? 'M-3.6,0H3.6M0,-0.6L0.65,0.5H-0.65Z' : datum.value === 'LS 1%' ? 'M-3.6,0H3.6M-0.55,-0.55L0.55,0.55M-0.55,0.55L0.55,-0.55' : datum.value === 'LS 2%' ? 'M-3.6,0H3.6M-0.55,-0.55L0.55,0.55M-0.55,0.55L0.55,-0.55M0,-0.7V0.7' : datum.value === 'Cem. 1%' ? 'M-3.6,0H3.6M0.6,0A0.6,0.6,0,1,1,-0.6,0A0.6,0.6,0,1,1,0.6,0Z' : 'M-3.6,0H3.6M0,-0.7V0.7'"},
          "fill": {"signal": "datum.value === 'Control' ? '#000080' : datum.value === 'PR 1%' ? '#FF00FF' : datum.value === 'PR 2%' ? '#FFFF00' : datum.value === 'Cem. 1%' ? '#800000' : 'transparent'"}
        }}}}}
   }},
  {"mark": {"type": "point", "filled": true, "size": 40, "strokeWidth": 1, "opacity": 1},
   "encoding": {
    "x": {"field": "day", "type": "quantitative", "scale": {"domain": [0, 400], "range": [46, 382], "nice": false, "zero": false},
      "axis": {"orient": "top", "offset": -8, "labels": false, "ticks": false, "grid": false, "title": null, "domainColor": "#808080"}},
    "y": {"field": "value", "type": "quantitative", "scale": {"domain": [8, 14.4], "range": [208, 8], "nice": false, "zero": false},
      "axis": {"orient": "right", "offset": -11, "labels": false, "ticks": false, "grid": false, "title": null, "domainColor": "#808080"}},
    "stroke": {"field": "series", "type": "nominal", "legend": null},
    "fill": {"field": "series", "type": "nominal", "scale": {"domain": ["Cem. 2%","Cem. 1%","LS 2%","LS 1%","PR 2%","PR 1%","Control"], "range": ["#008080","#800000","#000000","#000000","#FFFF00","#FF00FF","#000080"]}, "legend": null},
    "shape": {"field": "series", "type": "nominal", "scale": {"domain": ["Cem. 2%","Cem. 1%","LS 2%","LS 1%","PR 2%","PR 1%","Control"], "range": ["M-1,0H1M0,-1V1","circle","M-0.9,-0.9L0.9,0.9M-0.9,0.9L0.9,-0.9M0,-1.1V1.1","M-0.9,-0.9L0.9,0.9M-0.9,0.9L0.9,-0.9","M0,-0.95L0.95,0.8H-0.95Z","M-0.8,-0.8H0.8V0.8H-0.8Z","M0,-1L1,0L0,1L-1,0Z"]}, "legend": null}
   }}
 ],
 "resolve": {"axis": {"x": "independent", "y": "independent"}}
}
]},
{"spacing": 0, "bounds": "flush", "resolve": {"scale": {"fill": "independent", "stroke": "independent", "shape": "independent"}, "legend": {"fill": "independent", "stroke": "independent", "shape": "independent"}}, "hconcat": [
{"width": 99, "height": 265, "data": {"values": []}, "mark": "point", "encoding": {}},
{
 "width": 382, "height": 265, "view": {"stroke": "#000"},
 "data": {"name": "ecbl"},
 "layer": [
  {"mark": {"type": "line", "strokeWidth": 1.2},
   "encoding": {
    "x": {"field": "day", "type": "quantitative", "scale": {"domain": [0, 400], "range": [50, 371], "nice": false, "zero": false},
      "axis": {"orient": "bottom", "offset": -33, "values": [0,50,100,150,200,250,300,350,400], "format": "d", "grid": false, "tickSize": 3, "labelPadding": 2, "labelFontSize": 11, "title": "Time ( Days)", "titleFontSize": 12, "titleFontWeight": "bold", "titlePadding": 3}},
    "y": {"field": "value", "type": "quantitative", "scale": {"domain": [20, 35], "range": [232, 8], "nice": false, "zero": false},
      "axis": {"orient": "left", "offset": -50, "values": [20,22,24,26,28,30,32,34], "format": ".1f", "grid": true, "gridColor": "#B0B0B0", "tickSize": 3, "labelPadding": 2, "labelFontSize": 11, "title": "EC (dS/m)", "titleFontSize": 14, "titleFontWeight": "normal", "titlePadding": 4}},
    "stroke": {"field": "series", "type": "nominal", "scale": {"domain": ["Control","PR 1%","PR 2%","LS 1%","LS 2%","Cem. 1%","Cem. 2%"], "range": ["#000080","#000000","#000000","#000000","#800080","#800000","#008080"]}, "legend": null}
   }},
  {"mark": {"type": "point", "filled": true, "size": 70, "strokeWidth": 1, "opacity": 1},
   "encoding": {
    "x": {"field": "day", "type": "quantitative", "scale": {"domain": [0, 400], "range": [50, 371], "nice": false, "zero": false},
      "axis": {"orient": "top", "offset": -8, "labels": false, "ticks": false, "grid": false, "title": null, "domainColor": "#808080"}},
    "y": {"field": "value", "type": "quantitative", "scale": {"domain": [20, 35], "range": [232, 8], "nice": false, "zero": false},
      "axis": {"orient": "right", "offset": -11, "labels": false, "ticks": false, "grid": false, "title": null, "domainColor": "#808080"}},
    "stroke": {"field": "series", "type": "nominal", "legend": null},
    "fill": {"field": "series", "type": "nominal", "scale": {"domain": ["Cem. 2%","Cem. 1%","LS 2%","LS 1%","PR 2%","PR 1%","Control"], "range": ["#008080","#800000","#000000","#000000","#FFFF00","#FF00FF","#000080"]}, "legend": null},
    "shape": {"field": "series", "type": "nominal", "scale": {"domain": ["Cem. 2%","Cem. 1%","LS 2%","LS 1%","PR 2%","PR 1%","Control"], "range": ["M-1,0H1M0,-1V1","circle","M-0.9,-0.9L0.9,0.9M-0.9,0.9L0.9,-0.9M0,-1.1V1.1","M-0.9,-0.9L0.9,0.9M-0.9,0.9L0.9,-0.9","M0,-0.95L0.95,0.8H-0.95Z","M-0.8,-0.8H0.8V0.8H-0.8Z","M0,-1L1,0L0,1L-1,0Z"]}, "legend": null}
   }}
 ],
 "resolve": {"axis": {"x": "independent", "y": "independent"}}
},
{"width": 12, "height": 265, "data": {"values": []}, "mark": "point", "encoding": {}},
{
 "width": 374, "height": 265, "view": {"stroke": "#000"},
 "data": {"name": "ecbr"},
 "layer": [
  {"mark": {"type": "line", "strokeWidth": 1.2},
   "encoding": {
    "x": {"field": "day", "type": "quantitative", "scale": {"domain": [0, 400], "range": [41, 360], "nice": false, "zero": false},
      "axis": {"orient": "bottom", "offset": -34, "values": [0,50,100,150,200,250,300,350,400], "format": "d", "grid": false, "tickSize": 3, "labelPadding": 2, "labelFontSize": 11, "title": "Time ( Days)", "titleFontSize": 12, "titleFontWeight": "bold", "titlePadding": 4}},
    "y": {"field": "value", "type": "quantitative", "scale": {"domain": [4, 6.5], "range": [231, 8], "nice": false, "zero": false},
      "axis": {"orient": "left", "offset": -41, "values": [4,4.5,5,5.5,6,6.5], "format": ".1f", "grid": true, "gridColor": "#B0B0B0", "tickSize": 3, "labelPadding": 2, "labelFontSize": 11, "title": "EC (dS/m)", "titleFontSize": 14, "titleFontWeight": "normal", "titlePadding": 5}},
    "stroke": {"field": "series", "type": "nominal", "scale": {"domain": ["Control","PR 1%","PR 2%","LS 1%","LS 2%","Cem. 1%","Cem. 2%"], "range": ["#000080","#000000","#000000","#000000","#800080","#800000","#008080"]}, "legend": null}
   }},
  {"mark": {"type": "point", "filled": true, "size": 70, "strokeWidth": 1, "opacity": 1},
   "encoding": {
    "x": {"field": "day", "type": "quantitative", "scale": {"domain": [0, 400], "range": [41, 360], "nice": false, "zero": false},
      "axis": {"orient": "top", "offset": -8, "labels": false, "ticks": false, "grid": false, "title": null, "domainColor": "#808080"}},
    "y": {"field": "value", "type": "quantitative", "scale": {"domain": [4, 6.5], "range": [231, 8], "nice": false, "zero": false},
      "axis": {"orient": "right", "offset": -14, "labels": false, "ticks": false, "grid": false, "title": null, "domainColor": "#808080"}},
    "stroke": {"field": "series", "type": "nominal", "legend": null},
    "fill": {"field": "series", "type": "nominal", "scale": {"domain": ["Cem. 2%","Cem. 1%","LS 2%","LS 1%","PR 2%","PR 1%","Control"], "range": ["#008080","#800000","#000000","#000000","#FFFF00","#FF00FF","#000080"]}, "legend": null},
    "shape": {"field": "series", "type": "nominal", "scale": {"domain": ["Cem. 2%","Cem. 1%","LS 2%","LS 1%","PR 2%","PR 1%","Control"], "range": ["M-1,0H1M0,-1V1","circle","M-0.9,-0.9L0.9,0.9M-0.9,0.9L0.9,-0.9M0,-1.1V1.1","M-0.9,-0.9L0.9,0.9M-0.9,0.9L0.9,-0.9","M0,-0.95L0.95,0.8H-0.95Z","M-0.8,-0.8H0.8V0.8H-0.8Z","M0,-1L1,0L0,1L-1,0Z"]}, "legend": null}
   }}
 ],
 "resolve": {"axis": {"x": "independent", "y": "independent"}}
}
]},
{"spacing": 0, "bounds": "flush", "hconcat": [
{"width": 962, "height": 75, "data": {"values": []}, "mark": "point", "encoding": {}, "title": {"text": ["Figure 2. Changes of pH and EC of the polluted soils throughout the incubation periods as affected by the applied rates of the", "local amendments."], "orient": "bottom", "anchor": "start", "offset": -73, "font": "Liberation Serif", "fontSize": 18, "lineHeight": 18.5, "fontWeight": "bold", "baseline": "top"}}
]},
{"spacing": 0, "bounds": "flush", "hconcat": [
{"width": 870, "height": 35, "data": {"values": []}, "mark": "point", "encoding": {}, "title": {"text": "Copyright \u00a9 2013 SciRes.", "orient": "bottom", "anchor": "start", "offset": -30, "font": "Liberation Serif", "fontSize": 18, "fontWeight": "normal", "baseline": "top"}},
{"width": 92, "height": 35, "data": {"values": []}, "mark": "point", "encoding": {}, "title": {"text": "OJMetal", "orient": "bottom", "anchor": "end", "offset": -30, "font": "Liberation Serif", "fontSize": 18, "fontWeight": "bold", "fontStyle": "italic", "baseline": "top"}}
]}
],
"config": {
 "view": {"stroke": null},
 "font": "Liberation Sans",
 "axis": {"labelFont": "Liberation Sans", "titleFont": "Liberation Sans", "labelColor": "#000", "titleColor": "#000", "domainColor": "#000", "tickColor": "#000", "labelFlush": false, "labelOverlap": false, "domainWidth": 1, "tickWidth": 1, "gridWidth": 1},
 "legend": {"labelFont": "Liberation Sans", "labelColor": "#000"},
 "title": {"color": "#000"}
}
}
